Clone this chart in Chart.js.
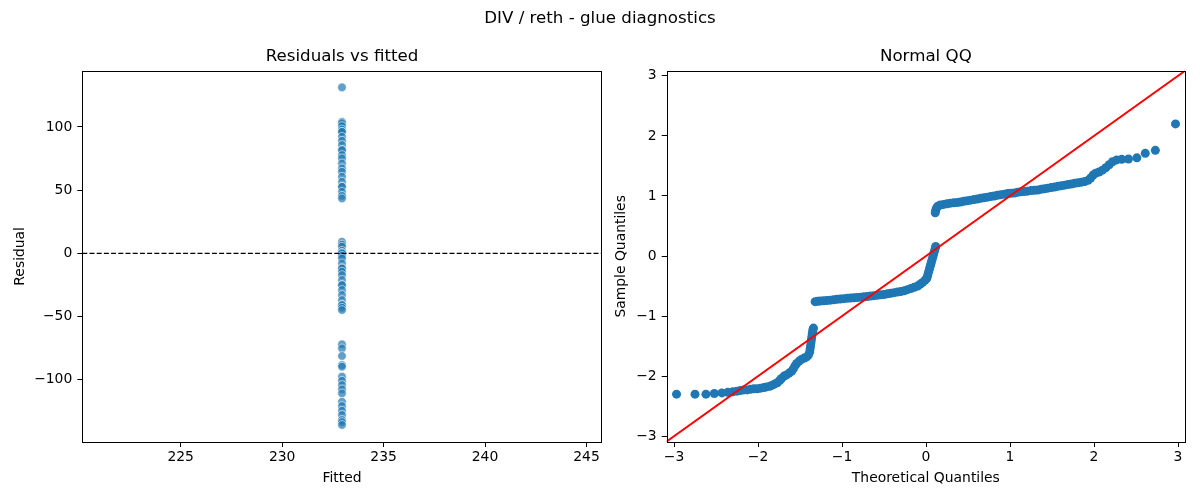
<!DOCTYPE html>
<html><head><meta charset="utf-8">
<script src="https://cdn.jsdelivr.net/npm/chart.js@4.4.1/dist/chart.umd.min.js"></script>
<style>
html,body{margin:0;padding:0;background:#fff;}
#wrap{position:relative;width:1200px;height:500px;overflow:hidden;font-family:"DejaVu Sans";}
#sup{position:absolute;left:0;top:8px;width:1200px;text-align:center;font-size:16.67px;line-height:20px;color:#000;font-family:"DejaVu Sans";}
#c1{position:absolute;left:0;top:0;width:620px;height:500px;}
#c2{position:absolute;left:600px;top:0;width:600px;height:500px;}
</style></head><body>
<div id="wrap">
<canvas id="c1" width="620" height="500"></canvas>
<canvas id="c2" width="600" height="500"></canvas>
<div id="sup">DIV / reth - glue diagnostics</div>
</div>
<script>
// ---- Data ----
const fittedValue = 232.95;
const residuals = [131.3,
  104.1, 103.0, 100.7, 98.0, 96.2, 96.2, 92.2, 89.1, 85.7, 81.7, 81.7, 77.8, 75.2, 71.2, 67.2, 64.6, 60.6, 56.6, 52.7, 52.7, 48.7, 45.5, 43.5,
  9.2, 7.0, 5.3, 2.0, 0.5, 0.0, -2.0, -4.0, -7.9, -11.9, -11.9, -14.5, -17.2, -21.1, -25.1, -25.1, -29.0, -33.0, -37.0, -40.9, -40.9, -43.0, -44.9,
  -72.0, -75.2, -81.2, -88.4, -89.7, -97.6, -100.8, -104.2, -107.6, -110.8, -117.4, -120.8, -124.5, -127.9, -131.9, -133.5, -135.8];

const qqTheoretical = [
  -2.97, -2.75, -2.62, -2.52, -2.43, -2.36, -2.30, -2.25, -2.21, -2.17, -2.13, -2.09, -2.05, -2.01, -1.97, -1.93, -1.90, -1.86, -1.83, -1.80,
  -1.77, -1.74, -1.72, -1.69, -1.66, -1.63, -1.60, -1.58, -1.56, -1.54, -1.51, -1.48, -1.45, -1.42, -1.40, -1.385, -1.38, -1.375, -1.37, -1.365,
  -1.36, -1.355, -1.35, -1.345, -1.34,
  -1.32, -1.29, -1.26, -1.22, -1.18, -1.14, -1.10, -1.06, -1.02, -0.98, -0.94, -0.90, -0.86, -0.82, -0.78, -0.74, -0.70, -0.66, -0.62, -0.58,
  -0.54, -0.50, -0.46, -0.42, -0.38, -0.34, -0.30, -0.26, -0.22, -0.18, -0.14, -0.10, -0.07, -0.04, -0.01,
  0.01, 0.02, 0.03, 0.04, 0.05, 0.06, 0.07, 0.08, 0.09, 0.10, 0.11, 0.115,
  0.11, 0.115, 0.125, 0.14, 0.17, 0.21, 0.25, 0.29, 0.33, 0.37, 0.41, 0.45, 0.49, 0.53, 0.57, 0.61, 0.65, 0.69, 0.73, 0.77,
  0.81, 0.85, 0.89, 0.93, 0.97, 1.01, 1.05, 1.09, 1.13, 1.17, 1.21, 1.25, 1.29, 1.33, 1.37, 1.41, 1.45, 1.49, 1.53, 1.57,
  1.61, 1.65, 1.69, 1.73, 1.77, 1.81, 1.85, 1.89, 1.93, 1.96, 1.99, 2.02, 2.06, 2.10, 2.14, 2.18, 2.22, 2.27, 2.33, 2.41,
  2.51, 2.61, 2.73, 2.97];
const qqSample = [
  -2.30, -2.30, -2.30, -2.29, -2.28, -2.27, -2.26, -2.25, -2.24, -2.23, -2.23, -2.22, -2.21, -2.21, -2.20, -2.19, -2.18, -2.17, -2.15, -2.13,
  -2.11, -2.07, -2.04, -2.00, -1.98, -1.95, -1.92, -1.88, -1.83, -1.79, -1.75, -1.72, -1.70, -1.68, -1.65, -1.60, -1.55, -1.50, -1.45, -1.40,
  -1.35, -1.30, -1.26, -1.22, -1.20,
  -0.76, -0.755, -0.75, -0.745, -0.74, -0.735, -0.73, -0.72, -0.715, -0.71, -0.705, -0.70, -0.695, -0.69, -0.685, -0.68, -0.675, -0.665, -0.66, -0.655,
  -0.645, -0.64, -0.63, -0.62, -0.61, -0.60, -0.59, -0.58, -0.56, -0.54, -0.52, -0.50, -0.47, -0.44, -0.40,
  -0.37, -0.32, -0.27, -0.22, -0.17, -0.12, -0.07, -0.02, 0.03, 0.08, 0.13, 0.16,
  0.72, 0.76, 0.80, 0.83, 0.85, 0.86, 0.87, 0.88, 0.885, 0.89, 0.90, 0.91, 0.92, 0.93, 0.94, 0.95, 0.96, 0.97, 0.98, 0.99,
  1.00, 1.01, 1.02, 1.03, 1.04, 1.045, 1.05, 1.06, 1.07, 1.075, 1.08, 1.09, 1.095, 1.10, 1.11, 1.12, 1.13, 1.14, 1.15, 1.16,
  1.17, 1.18, 1.19, 1.20, 1.21, 1.22, 1.23, 1.24, 1.26, 1.30, 1.35, 1.38, 1.40, 1.43, 1.47, 1.52, 1.57, 1.60, 1.61, 1.615,
  1.635, 1.71, 1.76, 2.20];

const leftXTicks = [225, 230, 235, 240, 245];
const leftYTicks = [-100, -50, 0, 50, 100];
const qqTicks = [-3, -2, -1, 0, 1, 2, 3];
const leftXRange = [220.15, 245.75];
const leftYRange = [-149.3, 144.5];
const qqXRange = [-3.087, 3.083];
const qqYRange = [-3.097, 3.086];

// ---- Helpers ----
const FONT = 'DejaVu Sans';
const fmt = v => String(v).replace('-', '\u2212');

const framePlugin = {
  id: 'frame',
  afterDraw(chart, args, opts) {
    const {ctx, chartArea: a} = chart;
    ctx.save();
    ctx.strokeStyle = '#000';
    ctx.lineWidth = 1;
    ctx.strokeRect(Math.round(a.left) + 0.5, Math.round(a.top) + 0.5,
                   Math.round(a.right - a.left), Math.round(a.bottom - a.top));
    ctx.fillStyle = '#000';
    ctx.font = '16.67px "' + FONT + '"';
    ctx.textAlign = 'center';
    ctx.textBaseline = 'middle';
    ctx.fillText(opts.text, (a.left + a.right) / 2, 57);
    ctx.restore();
  }
};

function axis(ticksArr, range, title, isX, fitSize, titlePad) {
  return {
    type: 'linear',
    min: range[0], max: range[1],
    afterBuildTicks: s => { s.ticks = ticksArr.map(v => ({value: v})); },
    afterFit: s => { if (isX) s.height = fitSize; else s.width = fitSize; },
    grid: {display: true, drawOnChartArea: false, drawTicks: true, tickLength: 5, color: '#000', lineWidth: 1},
    border: {display: false},
    ticks: {
      color: '#000', font: {family: FONT, size: 13.9}, padding: isX ? 2 : 5,
      maxRotation: 0, autoSkip: false, callback: v => fmt(v)
    },
    title: {
      display: true, text: title, color: '#000',
      font: {family: FONT, size: 13.9},
      padding: isX ? {top: 0, bottom: titlePad} : {top: titlePad, bottom: 0}
    }
  };
}

function baseOptions(xAx, yAx, pad, titleText) {
  return {
    responsive: false, animation: false,
    layout: {padding: pad},
    plugins: {legend: {display: false}, tooltip: {enabled: false}, frame: {text: titleText}},
    scales: {x: xAx, y: yAx}
  };
}

// ---- Left: Residuals vs fitted ----
new Chart(document.getElementById('c1'), {
  type: 'scatter',
  data: {
    datasets: [
      {
        type: 'line', order: 0,
        data: [{x: leftXRange[0], y: 0}, {x: leftXRange[1], y: 0}],
        borderColor: '#000', borderWidth: 1.2, borderDash: [5, 2.2],
        pointRadius: 0, fill: false
      },
      {
        order: 1,
        data: residuals.map(r => ({x: fittedValue, y: r})),
        backgroundColor: 'rgba(31,119,180,0.7)',
        borderColor: 'rgba(255,255,255,0.7)',
        borderWidth: 0.8, pointRadius: 4.3
      }
    ]
  },
  options: baseOptions(
    axis(leftXTicks, leftXRange, 'Fitted', true, 58, 13),
    axis(leftYTicks, leftYRange, 'Residual', false, 82.3, 12.5),
    {top: 70.7, right: 18.3, left: 0, bottom: 0},
    'Residuals vs fitted'),
  plugins: [framePlugin]
});

// ---- Right: Normal QQ ----
new Chart(document.getElementById('c2'), {
  type: 'scatter',
  data: {
    datasets: [
      {
        type: 'line', order: 0,
        data: [{x: -3.2, y: -3.2}, {x: 3.2, y: 3.2}],
        borderColor: '#ff0000', borderWidth: 2, pointRadius: 0, fill: false
      },
      {
        order: 1,
        data: qqTheoretical.map((t, i) => ({x: t, y: qqSample[i]})),
        backgroundColor: '#1f77b4', borderColor: '#1f77b4',
        borderWidth: 0, pointRadius: 4.5
      }
    ]
  },
  options: baseOptions(
    axis(qqTicks, qqXRange, 'Theoretical Quantiles', true, 58, 13),
    axis(qqTicks, qqYRange, 'Sample Quantiles', false, 66.7, 13.5),
    {top: 70.7, right: 15, left: 0, bottom: 0},
    'Normal QQ'),
  plugins: [framePlugin]
});
</script>
</body></html>
